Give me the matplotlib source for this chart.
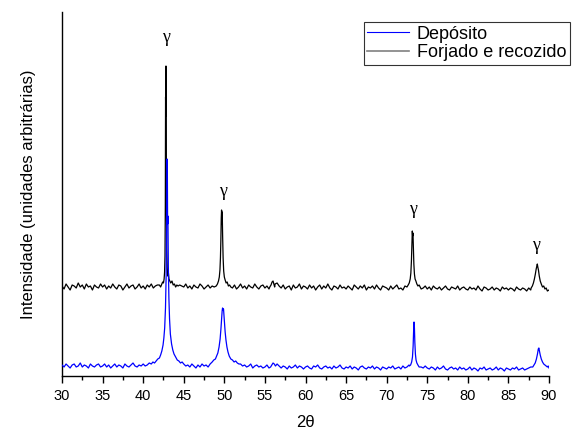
import numpy as np
import matplotlib
matplotlib.use("Agg")
import matplotlib.pyplot as plt
from matplotlib.lines import Line2D
from matplotlib.ticker import MultipleLocator

plt.rcParams['font.family'] = ['Liberation Sans', 'DejaVu Sans']

# ---- diffractogram data (arbitrary intensity units) ----
# background scan on a 0.25 degree grid, 30 .. 90
grid_2theta = np.round(np.arange(30.0, 90.001, 0.25), 2)

black_background = [
    90, 87, 92, 89, 86, 91, 90, 88, 93, 89, 91, 87, 92, 89, 90, 86, 91, 89, 88, 92,
    89, 91, 87, 90, 88, 92, 89, 87, 91, 90, 86, 89, 92, 88, 90, 91, 87, 89, 92, 88,
    90, 87, 91, 89, 92, 88, 90, 91, 89, 92, 94, 93, 95, 96, 95, 94, 92, 93, 91, 90,
    89, 92, 88, 90, 87, 91, 89, 88, 92, 90, 87, 89, 91, 88, 90, 89, 92, 87, 90, 91,
    92, 93, 91, 90, 88, 91, 87, 89, 92, 88, 90, 87, 91, 89, 88, 92, 89, 87, 90, 91,
    88, 90, 87, 89, 91, 92, 93, 90, 88, 91, 87, 89, 90, 86, 91, 88, 89, 92, 87, 90,
    89, 87, 91, 88, 90, 86, 89, 91, 87, 90, 88, 92, 88, 86, 90, 89, 87, 91, 88, 89,
    87, 90, 88, 86, 91, 89, 87, 90, 88, 91, 86, 89, 88, 90, 87, 91, 88, 86, 90, 89,
    88, 86, 90, 87, 89, 91, 87, 88, 86, 90, 89, 87, 91, 88, 86, 90, 89, 87, 88, 90,
    87, 89, 86, 90, 88, 87, 89, 86, 88, 90, 87, 86, 89, 88, 87, 90, 86, 88, 89, 87,
    86, 89, 87, 88, 86, 90, 87, 85, 89, 88, 86, 87, 89, 86, 88, 87, 85, 89, 87, 88,
    86, 88, 87, 85, 89, 87, 86, 88, 87, 85, 88, 86, 89, 87, 86, 88, 87, 86, 88, 87,
    86,
]

blue_background = [
    11, 9, 12, 10, 8, 11, 12, 9, 10, 13, 9, 11, 10, 8, 12, 10, 9, 11, 12, 9,
    10, 12, 9, 11, 8, 10, 12, 9, 11, 10, 8, 12, 10, 9, 11, 13, 10, 9, 11, 10,
    12, 10, 11, 13, 12, 14, 13, 15, 16, 18, 20, 24, 30, 40, 60, 50, 30, 20, 16, 14,
    12, 10, 11, 9, 12, 10, 8, 11, 9, 12, 10, 11, 9, 12, 13, 12, 14, 15, 17, 19,
    20, 18, 16, 14, 13, 12, 14, 11, 12, 10, 11, 9, 10, 12, 8, 10, 11, 9, 10, 8,
    9, 11, 8, 10, 9, 11, 12, 10, 8, 10, 9, 7, 10, 8, 9, 11, 8, 10, 9, 7,
    9, 10, 8, 7, 10, 9, 11, 8, 7, 9, 10, 8, 9, 7, 10, 8, 9, 11, 8, 7,
    9, 8, 10, 7, 9, 8, 6, 9, 10, 8, 7, 9, 8, 10, 7, 9, 8, 6, 9, 8,
    7, 9, 8, 10, 7, 8, 9, 7, 10, 8, 9, 11, 10, 12, 14, 20, 10, 9, 8, 10,
    8, 7, 9, 8, 6, 9, 7, 8, 10, 7, 6, 8, 9, 7, 8, 6, 9, 7, 8, 6,
    7, 9, 6, 8, 7, 5, 8, 7, 9, 6, 7, 8, 6, 7, 9, 6, 8, 7, 5, 8,
    7, 6, 8, 7, 9, 6, 7, 8, 6, 7, 8, 9, 10, 11, 12, 14, 20, 18, 12, 10,
    8,
]

# finely sampled reflections: (2theta, intensity)
black_peaks = [
    [(42.0, 91), (42.15, 89), (42.3, 92), (42.4, 94), (42.5, 93), (42.58, 97),
     (42.64, 104), (42.69, 120), (42.73, 170), (42.76, 279), (42.79, 260),
     (42.81, 310), (42.84, 240), (42.87, 170), (42.91, 128), (42.96, 108),
     (43.02, 100), (43.1, 104), (43.18, 97), (43.28, 95), (43.4, 93),
     (43.55, 95), (43.7, 91), (43.85, 92), (44.0, 89), (44.15, 91), (44.3, 90)],
    [(49.0, 90), (49.15, 92), (49.28, 95), (49.38, 99), (49.46, 106),
     (49.52, 118), (49.57, 135), (49.62, 158), (49.66, 166), (49.7, 152),
     (49.74, 164), (49.79, 140), (49.85, 118), (49.92, 105), (50.0, 99),
     (50.1, 96), (50.22, 93), (50.35, 94), (50.5, 90), (50.65, 91), (50.8, 89)],
    [(55.6, 89), (55.75, 91), (55.88, 94), (56.0, 95), (56.1, 92), (56.2, 89)],
    [(72.5, 89), (72.65, 91), (72.78, 93), (72.9, 97), (72.98, 103),
     (73.05, 115), (73.11, 132), (73.16, 145), (73.2, 140), (73.24, 143),
     (73.29, 128), (73.35, 112), (73.42, 102), (73.5, 97), (73.6, 95),
     (73.72, 92), (73.85, 90), (74.0, 91)],
    [(87.8, 88), (87.95, 90), (88.08, 93), (88.2, 97), (88.32, 102),
     (88.42, 107), (88.5, 110), (88.56, 112), (88.62, 109), (88.7, 106),
     (88.8, 100), (88.92, 95), (89.05, 92), (89.2, 89), (89.35, 90),
     (89.5, 87), (89.65, 88), (89.8, 85), (90.0, 86)],
]

blue_peaks = [
    [(41.0, 12), (41.2, 14), (41.4, 13), (41.6, 15), (41.8, 17), (42.0, 18),
     (42.15, 21), (42.3, 25), (42.45, 31), (42.55, 38), (42.65, 48),
     (42.75, 68), (42.83, 100), (42.88, 140), (42.92, 180), (42.95, 217),
     (42.98, 205), (43.01, 152), (43.05, 160), (43.1, 110), (43.17, 78),
     (43.25, 57), (43.35, 42), (43.5, 32), (43.65, 26), (43.8, 22),
     (44.0, 19), (44.2, 16), (44.4, 15), (44.6, 13), (44.8, 14), (45.0, 12)],
    [(48.5, 14), (48.7, 16), (48.9, 17), (49.05, 20), (49.2, 23), (49.35, 29),
     (49.48, 37), (49.58, 47), (49.66, 57), (49.73, 65), (49.78, 68),
     (49.84, 66), (49.9, 67), (49.96, 60), (50.03, 51), (50.1, 44),
     (50.2, 36), (50.32, 29), (50.45, 24), (50.6, 20), (50.8, 17),
     (51.0, 16), (51.2, 14), (51.4, 15), (51.6, 13), (51.8, 12)],
    [(55.7, 9), (55.85, 11), (56.0, 13), (56.15, 12), (56.3, 10)],
    [(72.8, 10), (72.95, 11), (73.08, 14), (73.18, 19), (73.26, 30),
     (73.32, 45), (73.37, 54), (73.42, 48), (73.47, 34), (73.54, 22),
     (73.62, 16), (73.72, 13), (73.85, 11), (74.0, 9)],
    [(88.0, 9), (88.15, 11), (88.3, 13), (88.45, 17), (88.58, 22),
     (88.68, 27), (88.75, 28), (88.82, 25), (88.92, 21), (89.05, 17),
     (89.2, 14), (89.35, 12), (89.5, 11), (89.65, 10), (89.8, 9),
     (89.9, 10), (90.0, 8)],
]

# gamma (austenite) reflection labels: (2theta, intensity)
gamma_labels = [(42.81, 338), (49.78, 184), (73.2, 166), (88.4, 130)]

series_names = ["Depósito", "Forjado e recozido"]


def assemble(background, peaks):
    """Merge the coarse background scan with the finely sampled reflections."""
    x = np.asarray(grid_2theta, dtype=float)
    y = np.asarray(background, dtype=float)
    keep = np.ones_like(x, dtype=bool)
    px, py = [], []
    for pk in peaks:
        a = np.array(pk, dtype=float)
        keep &= ~((x >= a[0, 0]) & (x <= a[-1, 0]))
        px.append(a[:, 0])
        py.append(a[:, 1])
    xx = np.concatenate([x[keep]] + px)
    yy = np.concatenate([y[keep]] + py)
    order = np.argsort(xx)
    return xx[order], yy[order]


bx, by = assemble(blue_background, blue_peaks)
kx, ky = assemble(black_background, black_peaks)

fig = plt.figure(figsize=(5.73, 4.32), dpi=100)
ax = fig.add_axes([62 / 573, 56 / 432, 487 / 573, 364 / 432])

ax.plot(kx, ky, color="black", lw=0.9, zorder=2)
ax.plot(bx, by, color="#0000ff", lw=0.9, zorder=3)

for gx, gy in gamma_labels:
    ax.text(gx, gy, "γ", ha="center", va="center", fontsize=13,
            family=["Liberation Serif", "DejaVu Serif"])

ax.set_xlim(30, 90)
ax.set_ylim(0, 364)
ax.xaxis.set_major_locator(MultipleLocator(5))
ax.xaxis.set_minor_locator(MultipleLocator(2.5))
ax.tick_params(axis="x", which="major", direction="out", length=5, width=1.0,
               labelsize=10.5, pad=4)
ax.tick_params(axis="x", which="minor", direction="out", length=3, width=1.0)
ax.set_yticks([])
for s in ("top", "right"):
    ax.spines[s].set_visible(False)
for s in ("left", "bottom"):
    ax.spines[s].set_linewidth(1.0)

ax.set_xlabel("2θ", fontsize=12, labelpad=9)
ax.set_ylabel("Intensidade (unidades arbitrárias)", fontsize=12)
ax.yaxis.set_label_coords(-0.053, 0.5)

handles = [Line2D([], [], color="#0000ff", lw=0.8),
           Line2D([], [], color="#808080", lw=1.2)]
leg = fig.legend(handles, series_names, loc="upper right",
                 bbox_to_anchor=(570 / 573, 1 - 22 / 432), fontsize=13,
                 frameon=True, fancybox=False, borderaxespad=0,
                 handlelength=2.3, handletextpad=0.45, labelspacing=0.1,
                 borderpad=0.2)
leg.get_frame().set_edgecolor("black")
leg.get_frame().set_linewidth(0.8)

fig.savefig("out.png", dpi=100)
